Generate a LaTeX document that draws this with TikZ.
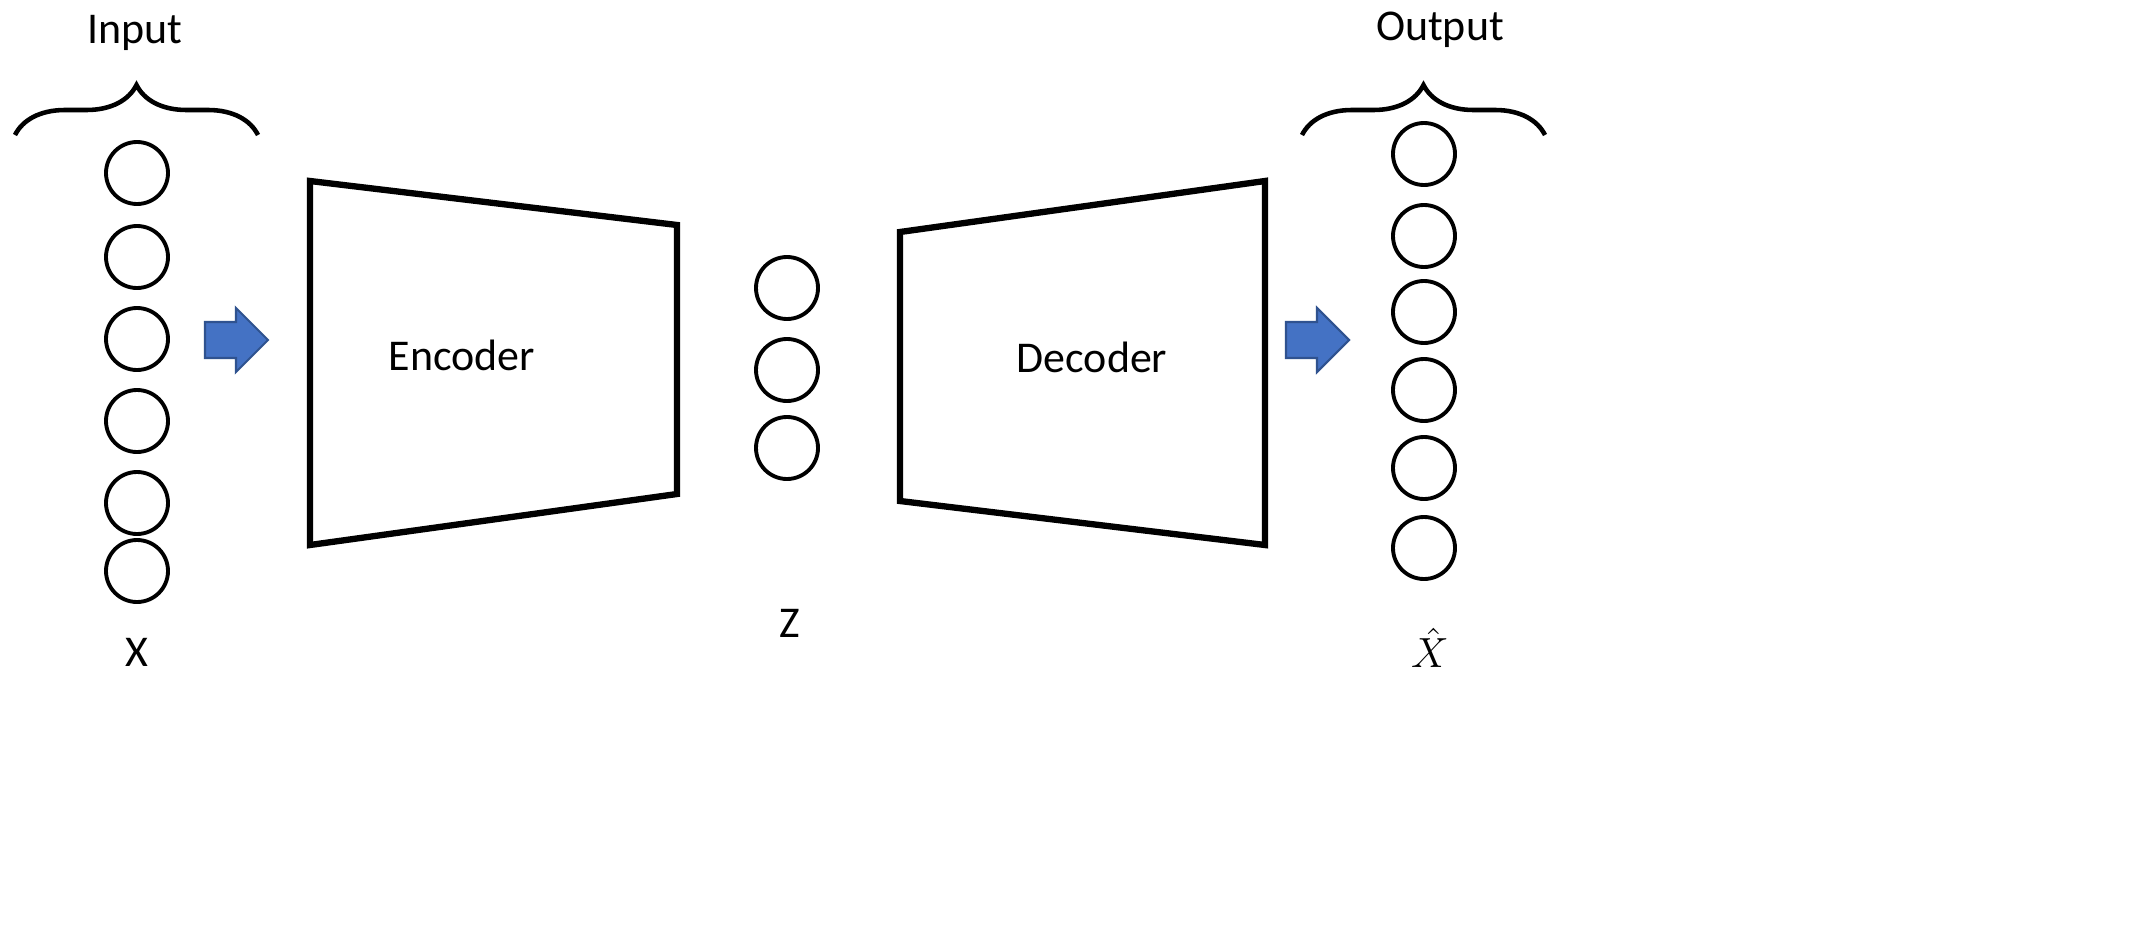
\documentclass[tikz,border=0pt]{standalone}
\usepackage{fontspec}
\setmainfont{Carlito}
\usetikzlibrary{decorations.pathreplacing}
\definecolor{arrblue}{HTML}{4472C4}
\definecolor{arredge}{HTML}{2F528F}
\begin{document}
\begin{tikzpicture}[x=0.2845pt,y=-0.2845pt,
  unit/.style={circle,draw,line width=1.1pt,minimum size=0.62cm,inner sep=0pt},
  blk/.style={draw,line width=1.8pt},
  lbl/.style={font=\fontsize{12.5}{15}\selectfont},
  brc/.style={draw,line width=1.3pt,decorate,decoration={brace,amplitude=0.5cm}},
  bluearrow/.style={fill=arrblue,draw=arredge,line width=0.6pt}]
\fill[white] (0,0) rectangle (2135,931);
\foreach \y [count=\i] in {173,257,339,421,503,571} \node[unit] (in\i) at (137,\y) {};
\foreach \y [count=\i] in {154,236,312,390,468,548} \node[unit] (out\i) at (1424,\y) {};
\foreach \y [count=\i] in {288,370,448} \node[unit] (z\i) at (787,\y) {};
\coordinate (bl1) at (15,135); \coordinate (bl2) at (258,135);
\coordinate (br1) at (1302,135); \coordinate (br2) at (1545,135);
\draw[brc] (bl1) -- (bl2);
\draw[brc] (br1) -- (br2);
\node[lbl] (inlbl) at (135,33) {Input};
\node[lbl] (outlbl) at (1440,30) {Output};
\draw[blk] (310,181) -- (677,225) -- (677,494) -- (310,545) -- cycle;
\draw[blk] (900,232) -- (1265,181) -- (1265,545) -- (900,501) -- cycle;
\node[lbl] (enc) at (462,355) {Encoder};
\node[lbl] (dec) at (1092,357) {Decoder};
\draw[bluearrow] (205,322) -- (236,322) -- (236,308) -- (268,340) -- (236,372) -- (236,358) -- (205,358) -- cycle;
\draw[bluearrow] (1286,322) -- (1317,322) -- (1317,308) -- (1349,340) -- (1317,372) -- (1317,358) -- (1286,358) -- cycle;
\node[lbl] (xl) at (137,652) {X};
\node[lbl] (zl) at (790,623) {Z};
\node[lbl] (xh) at (1430,648) {$\hat{X}$};
\pgfresetboundingbox
\useasboundingbox (0,0) rectangle (2135,931);
\end{tikzpicture}
\end{document}
